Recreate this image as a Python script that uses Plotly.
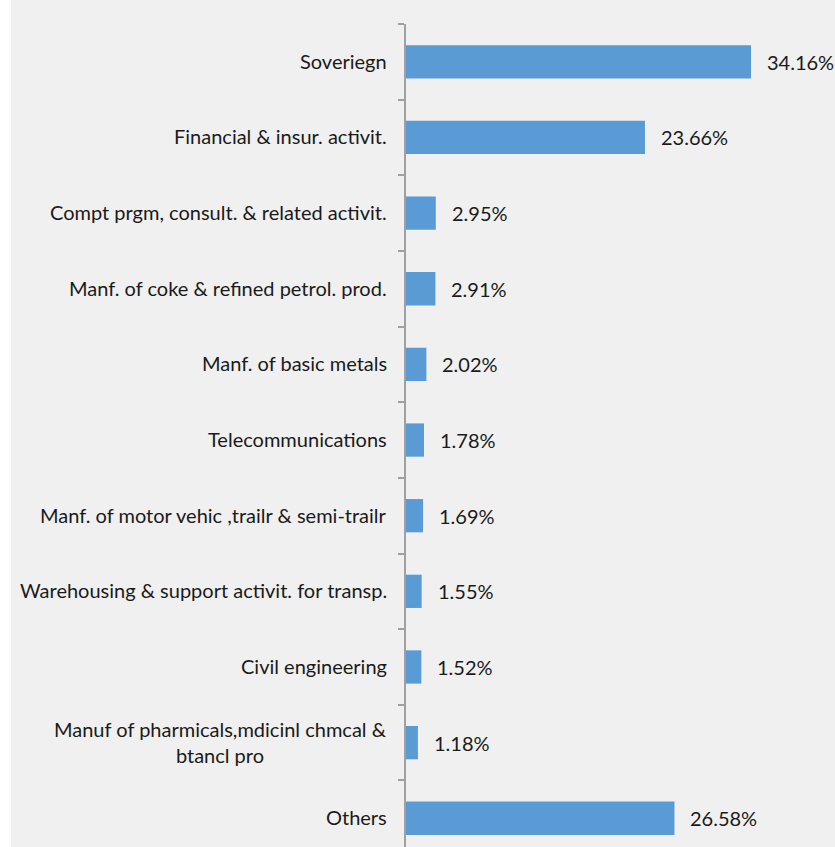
import plotly.graph_objects as go

categories = [
    "Soveriegn",
    "Financial & insur. activit.",
    "Compt prgm, consult. & related activit.",
    "Manf. of coke & refined petrol. prod.",
    "Manf. of basic metals",
    "Telecommunications",
    "Manf. of motor vehic ,trailr & semi-trailr",
    "Warehousing & support activit. for transp.",
    "Civil engineering",
    "Manuf of pharmicals,mdicinl chmcal &<br>btancl pro",
    "Others",
]
values = [34.16, 23.66, 2.95, 2.91, 2.02, 1.78, 1.69, 1.55, 1.52, 1.18, 26.58]
value_labels = ["34.16%", "23.66%", "2.95%", "2.91%", "2.02%", "1.78%", "1.69%",
                "1.55%", "1.52%", "1.18%", "26.58%"]

FONT = "Lato"
TXT = "#1a1a1a"

fig = go.Figure(go.Bar(
    x=values, y=categories, orientation="h",
    marker=dict(color="#5b9bd5", line=dict(width=0)),
    width=0.44, hoverinfo="skip",
))

annotations = []
for cat, v, lab in zip(categories, values, value_labels):
    annotations.append(dict(
        x=0, xref="paper", y=cat, yref="y", text=cat, showarrow=False,
        xanchor="right", yanchor="middle", xshift=-17, yshift=1, align="center",
        font=dict(family=FONT, size=20, color=TXT),
    ))
    annotations.append(dict(
        x=v, xref="x", y=cat, yref="y", text=lab, showarrow=False,
        xanchor="left", yanchor="middle", xshift=14, yshift=0,
        font=dict(family=FONT, size=20, color=TXT),
    ))

L = 406
W = 835 - L
fig.update_layout(
    width=835, height=847,
    margin=dict(l=L, r=0, t=24, b=0, pad=0),
    paper_bgcolor="#f0f0f0", plot_bgcolor="rgba(0,0,0,0)",
    showlegend=False,
    annotations=annotations,
    shapes=[dict(type="rect", xref="paper", yref="paper",
                 x0=-L / W, x1=-(L - 11) / W, y0=-0.1, y1=1.1,
                 fillcolor="white", line=dict(width=0), layer="below")],
    xaxis=dict(range=[0, W / 10.1], visible=False, fixedrange=True),
    yaxis=dict(
        categoryorder="array", categoryarray=categories[::-1],
        range=[-0.38, 10.5],
        showticklabels=False, tickson="boundaries",
        ticks="outside", ticklen=6, tickcolor="#a0a0a0", tickwidth=2,
        showline=True, linecolor="#a0a0a0", linewidth=2,
        showgrid=False, zeroline=False, fixedrange=True,
    ),
)

fig.write_html("out.html")
